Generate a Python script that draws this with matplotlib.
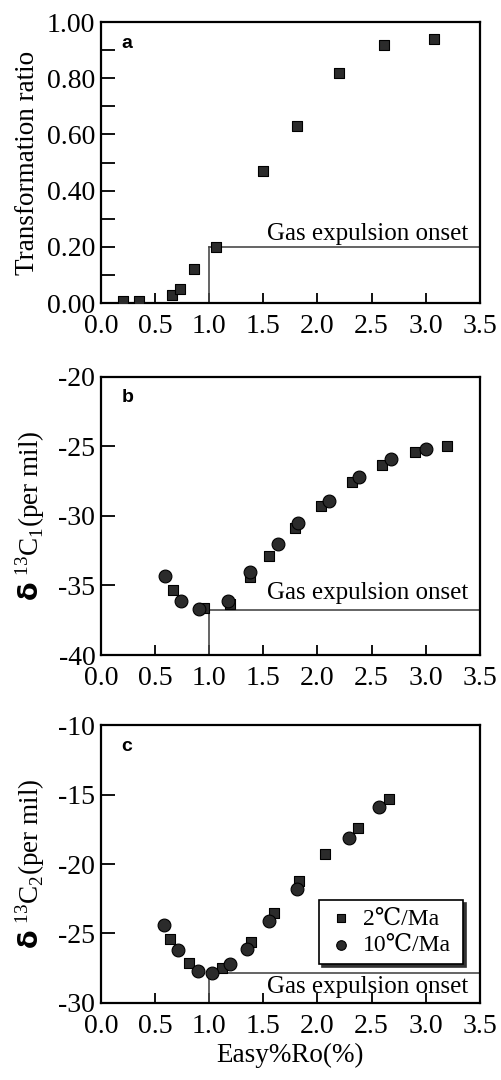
import matplotlib
matplotlib.use("Agg")
import matplotlib.pyplot as plt
from matplotlib.ticker import MultipleLocator

plt.rcParams['font.family'] = ['Liberation Serif', 'DejaVu Serif']
plt.rcParams['mathtext.fontset'] = 'custom'
plt.rcParams['mathtext.rm'] = 'Liberation Serif'

# panel a: transformation ratio
ro_a = [0.20, 0.35, 0.66, 0.73, 0.86, 1.06, 1.50, 1.81, 2.20, 2.61, 3.08]
tr_a = [0.008, 0.008, 0.03, 0.05, 0.12, 0.20, 0.47, 0.63, 0.82, 0.92, 0.94]

# panel b: d13C1, 2 C/Ma (squares) and 10 C/Ma (circles)
ro_b2 = [0.67, 0.95, 1.19, 1.38, 1.55, 1.79, 2.03, 2.32, 2.60, 2.90, 3.20]
c1_b2 = [-35.3, -36.6, -36.3, -34.4, -32.9, -30.9, -29.3, -27.6, -26.35, -25.4, -25.0]
ro_b10 = [0.59, 0.74, 0.91, 1.17, 1.38, 1.64, 1.82, 2.11, 2.38, 2.68, 3.00]
c1_b10 = [-34.3, -36.1, -36.7, -36.1, -34.0, -32.05, -30.5, -28.9, -27.2, -25.9, -25.2]

# panel c: d13C2
ro_c2 = [0.64, 0.81, 1.12, 1.39, 1.60, 1.83, 2.07, 2.37, 2.66]
c2_c2 = [-25.4, -27.1, -27.5, -25.6, -23.5, -21.2, -19.3, -17.4, -15.3]
ro_c10 = [0.58, 0.71, 0.90, 1.03, 1.19, 1.35, 1.55, 1.81, 2.29, 2.57]
c2_c10 = [-24.4, -26.2, -27.7, -27.85, -27.2, -26.1, -24.1, -21.8, -18.1, -15.9]

onset_ro = 1.0
onset_a = 0.20
onset_b = -36.8
onset_c = -27.85

fig = plt.figure(figsize=(5.02, 10.8), dpi=100)
ax_a = fig.add_axes([0.201, 0.7194, 0.755, 0.2602])
ax_b = fig.add_axes([0.201, 0.3935, 0.755, 0.2577])
ax_c = fig.add_axes([0.201, 0.0713, 0.755, 0.2574])

fc = '#2b2b2b'
line_c = '#4a4a4a'

def style(ax, ylo, yhi, ymaj, ymin, fmt):
    ax.set_xlim(0, 3.5)
    ax.set_ylim(ylo, yhi)
    ax.xaxis.set_major_locator(MultipleLocator(0.5))
    ax.yaxis.set_major_locator(MultipleLocator(ymaj))
    if ymin:
        ax.yaxis.set_minor_locator(MultipleLocator(ymin))
    ax.xaxis.set_major_formatter(plt.FuncFormatter(lambda v, p: f"{v:.1f}"))
    ax.yaxis.set_major_formatter(plt.FuncFormatter(fmt))
    ax.tick_params(axis='x', direction='in', length=7, width=1.3, labelsize=20, pad=8)
    ax.tick_params(axis='y', direction='in', length=10, width=1.3, labelsize=20, pad=4)
    ax.tick_params(axis='y', which='minor', direction='in', length=10, width=1.3)
    for s in ax.spines.values():
        s.set_linewidth(1.6)

style(ax_a, 0, 1.0, 0.2, 0.1, lambda v, p: f"{v:.2f}")
style(ax_b, -40, -20, 5, None, lambda v, p: f"{v:.0f}")
style(ax_c, -30, -10, 5, None, lambda v, p: f"{v:.0f}")

sq = dict(marker='s', s=60, c=fc, edgecolors='black', linewidths=0.8, zorder=3)
ci = dict(marker='o', s=85, c=fc, edgecolors='black', linewidths=0.8, zorder=3)

ax_a.scatter(ro_a, tr_a, **sq)
ax_b.scatter(ro_b2, c1_b2, **sq)
ax_b.scatter(ro_b10, c1_b10, **ci)
ax_c.scatter(ro_c2, c2_c2, label='2\u2103/Ma', **sq)
ax_c.scatter(ro_c10, c2_c10, label='10\u2103/Ma', **ci)

# gas expulsion onset marks
for ax, yv, ylo in [(ax_a, onset_a, 0), (ax_b, onset_b, -40), (ax_c, onset_c, -30)]:
    ax.plot([onset_ro, onset_ro], [ylo, yv], color=line_c, lw=1.2, zorder=2)
    ax.plot([onset_ro, 3.5], [yv, yv], color=line_c, lw=1.2, zorder=2)

ax_a.text(3.39, 0.207, 'Gas expulsion onset', ha='right', va='bottom', fontsize=18)
ax_b.text(3.39, -36.3, 'Gas expulsion onset', ha='right', va='bottom', fontsize=18)
ax_c.text(3.39, -28.05, 'Gas expulsion onset', ha='right', va='top', fontsize=18)

for ax, lab in [(ax_a, 'a'), (ax_b, 'b'), (ax_c, 'c')]:
    ax.text(0.055, 0.955, lab, transform=ax.transAxes, ha='left', va='top',
            fontsize=14, fontweight='bold', family='Liberation Sans')

ax_a.set_ylabel('Transformation ratio', fontsize=19.5, labelpad=5)
ax_b.set_ylabel(r'$\mathbf{\delta}$ $^{13}$C$_1$(per mil)', fontsize=19.5, labelpad=8)
ax_c.set_ylabel(r'$\mathbf{\delta}$ $^{13}$C$_2$(per mil)', fontsize=19.5, labelpad=8)
ax_c.set_xlabel('Easy%Ro(%)', fontsize=19.5, labelpad=3)

leg = ax_c.legend(loc='lower left', bbox_to_anchor=(0.575, 0.14, 0.38, 0.24), mode='expand',
                  frameon=True, fancybox=False, shadow={'color': '#333333', 'alpha': 1.0},
                  fontsize=17, handletextpad=0.3, borderpad=0.35, labelspacing=0.2,
                  markerscale=0.75, handlelength=1.2, borderaxespad=0)
leg.get_frame().set_edgecolor('black')
leg.get_frame().set_linewidth(1.2)

fig.savefig('out.png', dpi=100)
